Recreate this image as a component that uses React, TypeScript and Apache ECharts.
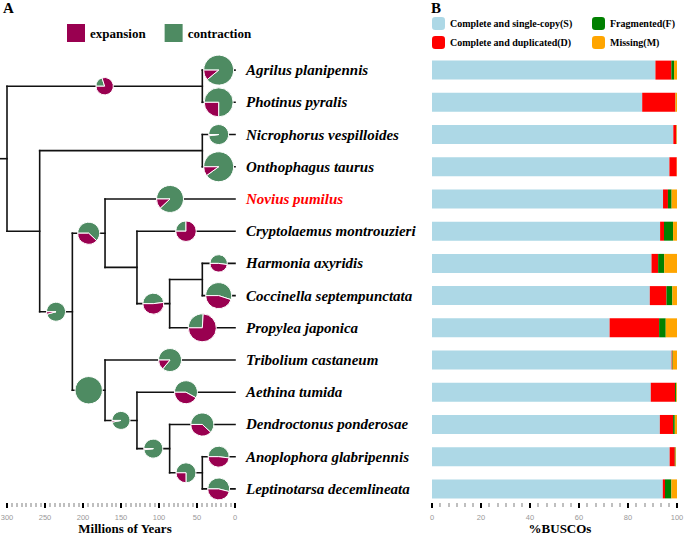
import React, { useEffect, useRef } from "react";
import * as echarts from "echarts";

// ---------- data ----------
const species = [
  "Agrilus planipennis",
  "Photinus pyralis",
  "Nicrophorus vespilloides",
  "Onthophagus taurus",
  "Novius pumilus",
  "Cryptolaemus montrouzieri",
  "Harmonia axyridis",
  "Coccinella septempunctata",
  "Propylea japonica",
  "Tribolium castaneum",
  "Aethina tumida",
  "Dendroctonus ponderosae",
  "Anoplophora glabripennis",
  "Leptinotarsa decemlineata",
];

// internal nodes of the tree (ages in millions of years)
const nodeIds = ["root", "A", "B", "C", "D", "E", "G", "H", "I", "F", "J", "K", "L"];
const nodeAges = [300, 43, 257, 43, 214, 171, 129, 86, 43, 171, 129, 86, 43];
const nodeChildren = [
  ["A", "B"],
  ["Agrilus planipennis", "Photinus pyralis"],
  ["C", "D"],
  ["Nicrophorus vespilloides", "Onthophagus taurus"],
  ["E", "F"],
  ["Novius pumilus", "G"],
  ["Cryptolaemus montrouzieri", "H"],
  ["I", "Propylea japonica"],
  ["Harmonia axyridis", "Coccinella septempunctata"],
  ["Tribolium castaneum", "J"],
  ["Aethina tumida", "K"],
  ["Dendroctonus ponderosae", "L"],
  ["Anoplophora glabripennis", "Leptinotarsa decemlineata"],
];
const rootStemAge = 309;

// gene family expansion / contraction on branches (branch named by its child)
const pieBranches = [
  "A", "Agrilus planipennis", "Photinus pyralis", "Nicrophorus vespilloides", "Onthophagus taurus",
  "D", "E", "Novius pumilus", "Cryptolaemus montrouzieri", "H", "Harmonia axyridis",
  "Coccinella septempunctata", "Propylea japonica", "F", "Tribolium castaneum", "J",
  "Aethina tumida", "K", "Dendroctonus ponderosae", "L", "Anoplophora glabripennis",
  "Leptinotarsa decemlineata",
];
const expansions = [242, 99, 210, 8, 90, 16, 184, 87, 318, 229, 145, 304, 580, 0, 74, 10, 222, 7, 201, 100, 212, 223];
const contractions = [61, 801, 631, 392, 810, 345, 300, 642, 106, 212, 158, 372, 204, 750, 455, 314, 307, 354, 328, 300, 229, 261];

// BUSCO percentages
const buscoNames = [
  "Complete and single-copy(S)",
  "Complete and duplicated(D)",
  "Fragmented(F)",
  "Missing(M)",
];
const singleCopy = [91.2, 85.8, 98.5, 96.9, 94.3, 93.1, 89.6, 88.9, 72.5, 97.8, 89.3, 93.0, 97.0, 94.2];
const duplicated = [6.5, 13.5, 1.2, 3.0, 2.0, 1.6, 2.7, 6.8, 20.2, 0.3, 9.9, 5.4, 2.1, 0.9];
const fragmented = [1.1, 0.1, 0.1, 0.0, 1.5, 3.7, 2.5, 2.4, 2.7, 0.2, 0.5, 0.7, 0.3, 2.6];
const missing = [1.2, 0.6, 0.2, 0.1, 2.2, 1.6, 5.2, 1.9, 4.6, 1.7, 0.3, 0.9, 0.2, 2.3];

const yearTicks = { min: 0, max: 300, interval: 50 };
const percentTicks = { min: 0, max: 100, interval: 20 };

// ---------- derived tree geometry (data space) ----------
const ageOf: Record<string, number> = {};
species.forEach((s) => (ageOf[s] = 0));
nodeIds.forEach((n, i) => (ageOf[n] = nodeAges[i]));
const childrenOf: Record<string, string[]> = {};
nodeIds.forEach((n, i) => (childrenOf[n] = nodeChildren[i]));
const parentOf: Record<string, string> = {};
nodeIds.forEach((n) => childrenOf[n].forEach((c) => (parentOf[c] = n)));

function yOf(n: string): number {
  const idx = species.indexOf(n);
  if (idx >= 0) return idx + 1;
  const ys = childrenOf[n].map(yOf);
  return ys.reduce((a, b) => a + b, 0) / ys.length;
}

const segments: number[][] = [];
nodeIds.forEach((n) => {
  const ys = childrenOf[n].map(yOf);
  segments.push([ageOf[n], Math.min(...ys), ageOf[n], Math.max(...ys)]);
});
[...nodeIds.slice(1), ...species].forEach((n) => {
  const y = yOf(n);
  segments.push([ageOf[parentOf[n]], y, ageOf[n], y]);
});
segments.push([rootStemAge, yOf("root"), ageOf["root"], yOf("root")]);

const pieData = pieBranches.map((b, i) => [
  (ageOf[parentOf[b]] + ageOf[b]) / 2,
  yOf(b),
  expansions[i],
  contractions[i],
]);

const EXP = "#990050";
const CON = "#4E8B62";
const SERIF = "Liberation Serif";

function pieRender(kind: "exp" | "con") {
  return (params: any, api: any) => {
    const e = api.value(2);
    const c = api.value(3);
    const total = e + c;
    const part = kind === "exp" ? e : c;
    if (!part) return null;
    const p = api.coord([api.value(0), api.value(1)]);
    const r = 0.5 * Math.sqrt(total);
    const split = Math.PI + (2 * Math.PI * c) / total;
    const start = kind === "con" ? Math.PI : split;
    const end = kind === "con" ? split : 3 * Math.PI;
    return {
      type: "sector",
      shape: { cx: p[0], cy: p[1], r0: 0, r, startAngle: start, endAngle: end, clockwise: true },
      style: { fill: kind === "exp" ? EXP : CON, stroke: "#fff", lineWidth: 1 },
    };
  };
}

const axisCommon = (minorSplit: number) => ({
  type: "value" as const,
  offset: -2,
  axisLine: { show: false },
  axisTick: { show: true, length: 5, lineStyle: { color: "#000", width: 2 } },
  minorTick: { show: true, splitNumber: minorSplit, length: 4, lineStyle: { color: "#aaa", width: 1.5 } },
  splitLine: { show: false },
  minorSplitLine: { show: false },
  axisLabel: { color: "#999", fontSize: 7.5, fontFamily: "Liberation Sans", margin: 10 },
  nameLocation: "middle" as const,
  nameGap: 19,
  nameMoveOverlap: false,
});

export default function App() {
  const ref = useRef<HTMLDivElement>(null);
  useEffect(() => {
    if (!ref.current) return;
    const chart = echarts.init(ref.current, undefined, { renderer: "svg" });
    const barColors = ["#ADD8E6", "#FF0000", "#008000", "#FFA500"];
    const barValues = [singleCopy, duplicated, fragmented, missing];
    chart.setOption({
      animation: false,
      textStyle: { fontFamily: SERIF },
      grid: [
        { left: 7, right: 450, top: 54, bottom: 29, containLabel: false, outerBoundsMode: "none" },
        { left: 432, right: 8, top: 54, bottom: 29, containLabel: false, outerBoundsMode: "none" },
      ],
      xAxis: [
        {
          ...axisCommon(8),
          gridIndex: 0,
          min: yearTicks.min,
          max: yearTicks.max,
          interval: yearTicks.interval,
          inverse: true,
          name: "Millions of Years",
          nameTextStyle: { fontFamily: SERIF, fontWeight: "bold", fontSize: 13, lineHeight: 12, color: "#000", padding: [0, 0, 0, 8] },
        },
        {
          ...axisCommon(6),
          gridIndex: 1,
          min: percentTicks.min,
          max: percentTicks.max,
          interval: percentTicks.interval,
          name: "%BUSCOs",
          nameTextStyle: { fontFamily: SERIF, fontWeight: "bold", fontSize: 13, lineHeight: 12, color: "#000", padding: [0, 0, 0, 11] },
        },
      ],
      yAxis: [
        { gridIndex: 0, type: "value", min: 0.5, max: 14.5, inverse: true, show: false },
        {
          gridIndex: 1,
          type: "category",
          data: species,
          inverse: true,
          axisLine: { show: false },
          axisTick: { show: false },
          splitLine: { show: false },
          axisLabel: {
            margin: 186,
            align: "left",
            fontFamily: SERIF,
            fontSize: 15,
            fontWeight: "bold",
            fontStyle: "italic",
            color: "#000",
            formatter: (v: string) => (v === "Novius pumilus" ? `{red|${v}}` : v),
            rich: {
              red: { color: "#FF0000", fontFamily: SERIF, fontSize: 15, fontWeight: "bold", fontStyle: "italic" },
            },
          },
        },
      ],
      legend: [
        {
          data: ["expansion", "contraction"],
          left: 67,
          top: 24,
          padding: 0,
          itemWidth: 18,
          itemHeight: 18,
          itemGap: 19,
          icon: "rect",
          selectedMode: false,
          textStyle: { fontFamily: SERIF, fontWeight: "bold", fontSize: 13, color: "#000" },
        },
        {
          data: [buscoNames[0], buscoNames[1]],
          orient: "vertical",
          left: 432,
          top: 17,
          padding: 0,
          itemWidth: 13,
          itemHeight: 13,
          itemGap: 6,
          icon: "roundRect",
          selectedMode: false,
          textStyle: { fontFamily: SERIF, fontWeight: "bold", fontSize: 10, color: "#000" },
        },
        {
          data: [buscoNames[2], buscoNames[3]],
          orient: "vertical",
          left: 592,
          top: 17,
          padding: 0,
          itemWidth: 13,
          itemHeight: 13,
          itemGap: 6,
          icon: "roundRect",
          selectedMode: false,
          textStyle: { fontFamily: SERIF, fontWeight: "bold", fontSize: 10, color: "#000" },
        },
      ],
      graphic: [
        { type: "text", left: 3, top: 0, style: { text: "A", font: `bold 15px "${SERIF}"`, fill: "#000" } },
        { type: "text", left: 431, top: 0, style: { text: "B", font: `bold 15px "${SERIF}"`, fill: "#000" } },
      ],
      series: [
        {
          type: "custom",
          name: "tree",
          xAxisIndex: 0,
          yAxisIndex: 0,
          silent: true,
          z: 2,
          data: segments,
          encode: { x: [0, 2], y: [1, 3] },
          renderItem: (params: any, api: any) => {
            const p1 = api.coord([api.value(0), api.value(1)]);
            const p2 = api.coord([api.value(2), api.value(3)]);
            return {
              type: "line",
              shape: { x1: p1[0], y1: p1[1], x2: p2[0], y2: p2[1] },
              style: { stroke: "#111", lineWidth: 1.6, lineCap: "square" },
            };
          },
        },
        {
          type: "custom",
          name: "contraction",
          xAxisIndex: 0,
          yAxisIndex: 0,
          z: 4,
          itemStyle: { color: CON },
          data: pieData,
          encode: { x: 0, y: 1 },
          renderItem: pieRender("con"),
        },
        {
          type: "custom",
          name: "expansion",
          xAxisIndex: 0,
          yAxisIndex: 0,
          z: 4,
          itemStyle: { color: EXP },
          data: pieData,
          encode: { x: 0, y: 1 },
          renderItem: pieRender("exp"),
        },
        ...buscoNames.map((name, i) => ({
          type: "bar",
          name,
          xAxisIndex: 1,
          yAxisIndex: 1,
          stack: "busco",
          barWidth: 19,
          itemStyle: { color: barColors[i] },
          data: barValues[i],
        })),
      ],
    });
    return () => chart.dispose();
  }, []);
  return <div ref={ref} style={{ position: "absolute", left: 0, top: 0, width: 685, height: 534 }} />;
}
